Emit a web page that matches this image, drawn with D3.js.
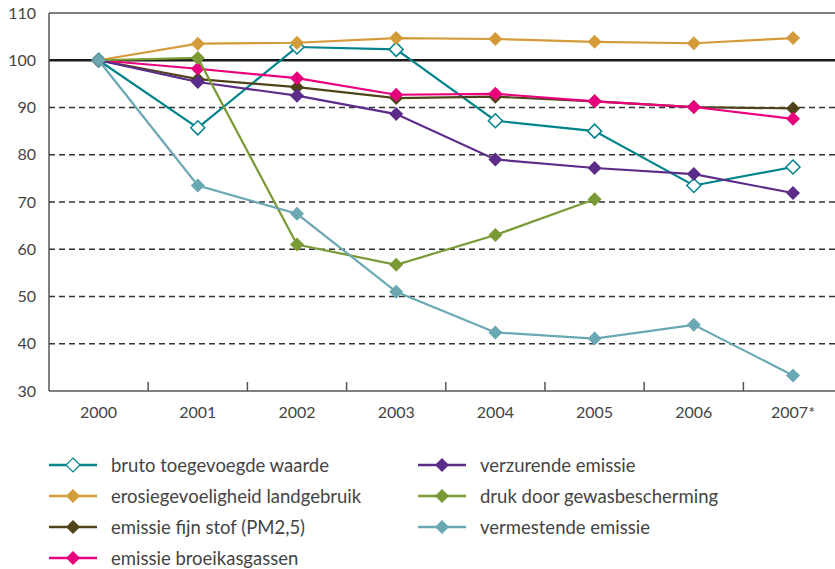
<!DOCTYPE html>
<html>
<head>
<meta charset="utf-8">
<script src="https://cdn.jsdelivr.net/npm/d3@7"></script>
<style>
  body { margin: 0; background: #fff; }
  text { font-family: Lato, "Open Sans", sans-serif; fill: #444; }
</style>
</head>
<body>
<div id="chart"></div>
<script>
// Data
const years = ["2000", "2001", "2002", "2003", "2004", "2005", "2006", "2007*"];
const yTicks = [30, 40, 50, 60, 70, 80, 90, 100, 110];

const brutoToegevoegd = [100, 85.7, 102.8, 102.3, 87.2, 85.0, 73.5, 77.4];
const erosie = [100, 103.5, 103.7, 104.7, 104.5, 103.9, 103.6, 104.7];
const fijnStof = [100, 96.0, 94.3, 92.0, 92.3, 91.3, 90.1, 89.8];
const broeikas = [100, 98.2, 96.2, 92.7, 92.9, 91.3, 90.1, 87.6];
const verzurend = [100, 95.4, 92.5, 88.6, 79.0, 77.2, 75.9, 71.9];
const gewasbescherming = [100, 100.5, 61.0, 56.7, 63.0, 70.6, null, null];
const vermestend = [100, 73.5, 67.5, 51.0, 42.4, 41.1, 44.0, 33.3];

const series = [
  { name: "bruto toegevoegde waarde", values: brutoToegevoegd, color: "#00848c", open: true },
  { name: "erosiegevoeligheid landgebruik", values: erosie, color: "#d49b3a" },
  { name: "emissie fijn stof (PM2,5)", values: fijnStof, color: "#4f4419" },
  { name: "emissie broeikasgassen", values: broeikas, color: "#e8007d" },
  { name: "verzurende emissie", values: verzurend, color: "#5b2c8a" },
  { name: "druk door gewasbescherming", values: gewasbescherming, color: "#7a9a35" },
  { name: "vermestende emissie", values: vermestend, color: "#6aa8b3" }
];

const width = 835, height = 569;
const plotLeft = 49, plotTop = 13, plotBottom = 391;

const svg = d3.select("#chart").append("svg")
  .attr("width", width)
  .attr("height", height);

const x = d3.scaleBand().domain(years).range([plotLeft, plotLeft + 8 * 99.2]);
const y = d3.scaleLinear().domain([30, 110]).range([plotBottom, plotTop]);

// gridlines
svg.selectAll(".grid")
  .data(yTicks.filter(d => d > 30 && d < 100))
  .enter().append("line")
  .attr("x1", plotLeft).attr("x2", width)
  .attr("y1", d => y(d)).attr("y2", d => y(d))
  .attr("stroke", "#333")
  .attr("stroke-width", 1.3)
  .attr("stroke-dasharray", "6,4");

// top frame line
svg.append("line")
  .attr("x1", plotLeft).attr("x2", width)
  .attr("y1", y(110)).attr("y2", y(110))
  .attr("stroke", "#555").attr("stroke-width", 1.5);

// 100 reference line
svg.append("line")
  .attr("x1", plotLeft).attr("x2", width)
  .attr("y1", y(100)).attr("y2", y(100))
  .attr("stroke", "#1a1a1a").attr("stroke-width", 2.5);

// y axis
svg.append("line")
  .attr("x1", plotLeft).attr("x2", plotLeft)
  .attr("y1", plotTop).attr("y2", plotBottom)
  .attr("stroke", "#555").attr("stroke-width", 1.5);

svg.selectAll(".ylab")
  .data(yTicks)
  .enter().append("text")
  .attr("x", 36)
  .attr("y", d => y(d) + 5.5)
  .attr("text-anchor", "end")
  .style("font-size", "16px")
  .text(d => d);

// x axis
svg.append("line")
  .attr("x1", plotLeft).attr("x2", width)
  .attr("y1", plotBottom).attr("y2", plotBottom)
  .attr("stroke", "#555").attr("stroke-width", 1.5);

svg.selectAll(".xtick")
  .data(years.slice(1))
  .enter().append("line")
  .attr("x1", d => x(d)).attr("x2", d => x(d))
  .attr("y1", plotBottom).attr("y2", plotBottom - 9)
  .attr("stroke", "#555").attr("stroke-width", 1.5);

svg.selectAll(".xlab")
  .data(years)
  .enter().append("text")
  .attr("x", d => x(d) + x.bandwidth() / 2)
  .attr("y", 418)
  .attr("text-anchor", "middle")
  .style("font-size", "16px")
  .text(d => d);

// lines + markers
const line = d3.line()
  .defined(d => d != null)
  .x((d, i) => x(years[i]) + x.bandwidth() / 2)
  .y(d => y(d));

const diamond = d3.symbol().type(d3.symbolDiamond2).size(125);

series.forEach(function (s) {
  const g = svg.append("g");
  g.append("path")
    .attr("d", line(s.values))
    .attr("fill", "none")
    .attr("stroke", s.color)
    .attr("stroke-width", 2.2);
  g.selectAll("path.m")
    .data(s.values.map((v, i) => ({ v: v, i: i })).filter(d => d.v != null))
    .enter().append("path")
    .attr("class", "m")
    .attr("d", diamond)
    .attr("transform", d => "translate(" + (x(years[d.i]) + x.bandwidth() / 2) + "," + y(d.v) + ")")
    .attr("fill", s.open ? "#fff" : s.color)
    .attr("stroke", s.color)
    .attr("stroke-width", s.open ? 1.5 : 0);
});

// legend
const legend = svg.selectAll(".leg")
  .data(series)
  .enter().append("g")
  .attr("transform", (d, i) => {
    const col = i < 4 ? 0 : 1;
    const row = i < 4 ? i : i - 4;
    return "translate(" + (col === 0 ? 49 : 418) + "," + (465 + row * 31) + ")";
  });

legend.append("line")
  .attr("x1", 0).attr("x2", 48)
  .attr("stroke", d => d.color)
  .attr("stroke-width", 2.5);

legend.append("path")
  .attr("d", diamond)
  .attr("transform", "translate(24,0)")
  .attr("fill", d => d.open ? "#fff" : d.color)
  .attr("stroke", d => d.color)
  .attr("stroke-width", d => d.open ? 1.2 : 0);

legend.append("text")
  .attr("x", 62)
  .attr("y", 6.5)
  .style("font-size", "18.5px")
  .text(d => d.name);
</script>
</body>
</html>
